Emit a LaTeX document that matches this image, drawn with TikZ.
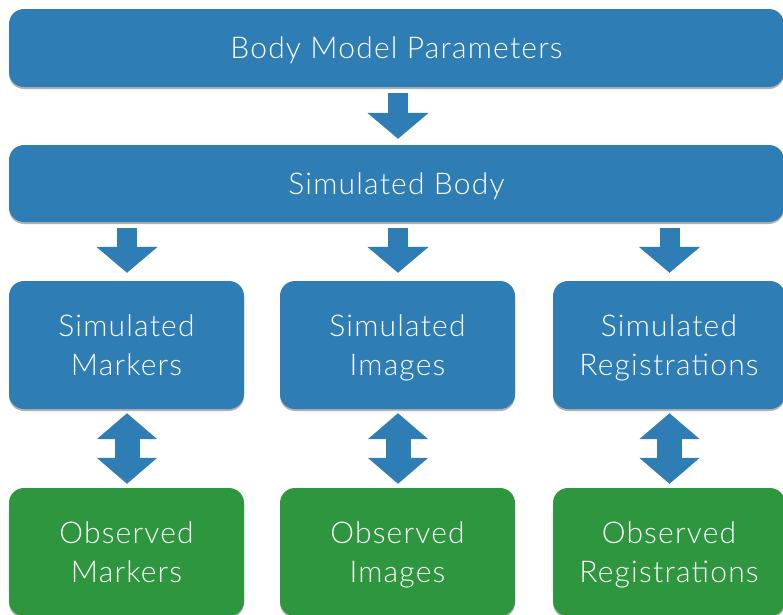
\documentclass[tikz,border=0pt]{standalone}
\usepackage{fontspec}
\setmainfont{Lato Light}[LetterSpace=4]
\usetikzlibrary{arrows.meta,shadows,calc}
\definecolor{boxblue}{RGB}{46,125,180}
\definecolor{boxgreen}{RGB}{46,150,62}
\tikzset{
  card/.style={rounded corners=15pt, inner sep=0pt, align=center, text=white,
    font=\fontsize{30}{39}\selectfont, text depth=0pt,
    drop shadow={shadow xshift=0pt, shadow yshift=-2pt, opacity=0.3, fill=black}},
  bluecard/.style={card, fill=boxblue},
  greencard/.style={card, fill=boxgreen},
  widecard/.style={bluecard, minimum width=775pt, minimum height=78pt},
  smallcard/.style={minimum width=235pt, minimum height=128pt},
  downarrow/.style={draw=boxblue, line width=20pt, -{Triangle[length=26pt,width=60pt]}},
  twoway/.style={draw=boxblue, line width=25pt, {Triangle[length=26pt,width=59pt]}-{Triangle[length=26pt,width=59pt]}}
}
\begin{document}
\begin{tikzpicture}[x=1pt,y=-1pt]
\useasboundingbox (0,0) rectangle (783,614);
\clip (0,0) rectangle (783,614);
\node[widecard] (params) at (396.5,48) {Body Model Parameters};
\node[widecard, minimum height=77pt] (body) at (396.5,183.5) {Simulated Body};
\node[bluecard, smallcard] (sm) at (126.5,345) {Simulated\\Markers};
\node[bluecard, smallcard] (si) at (397.5,345) {Simulated\\Images};
\node[bluecard, smallcard, minimum width=232pt] (sr) at (669,345) {Simulated\\Registrations};
\node[greencard, smallcard] (om) at (126.5,552) {Observed\\Markers};
\node[greencard, smallcard] (oi) at (397.5,552) {Observed\\Images};
\node[greencard, smallcard, minimum width=232pt] (or) at (669,552) {Observed\\Registrations};
% arrows
\draw[downarrow] ($(params.south)+(1.5,6)$) -- ($(body.north)+(1.5,-6)$);
\draw[downarrow] ($(body.south -| sm.north)+(0.5,6)$) -- ($(sm.north)+(0.5,-8)$);
\draw[downarrow] ($(body.south -| si.north)+(0.5,6)$) -- ($(si.north)+(0.5,-8)$);
\draw[downarrow] ($(body.south -| sr.north)+(0.5,6)$) -- ($(sr.north)+(0.5,-8)$);
\draw[twoway] ($(sm.south)+(0.5,4)$) -- ($(om.north)+(0.5,-4)$);
\draw[twoway] ($(si.south)+(0.5,4)$) -- ($(oi.north)+(0.5,-4)$);
\draw[twoway] ($(sr.south)+(0.5,4)$) -- ($(or.north)+(0.5,-4)$);
\end{tikzpicture}
\end{document}
